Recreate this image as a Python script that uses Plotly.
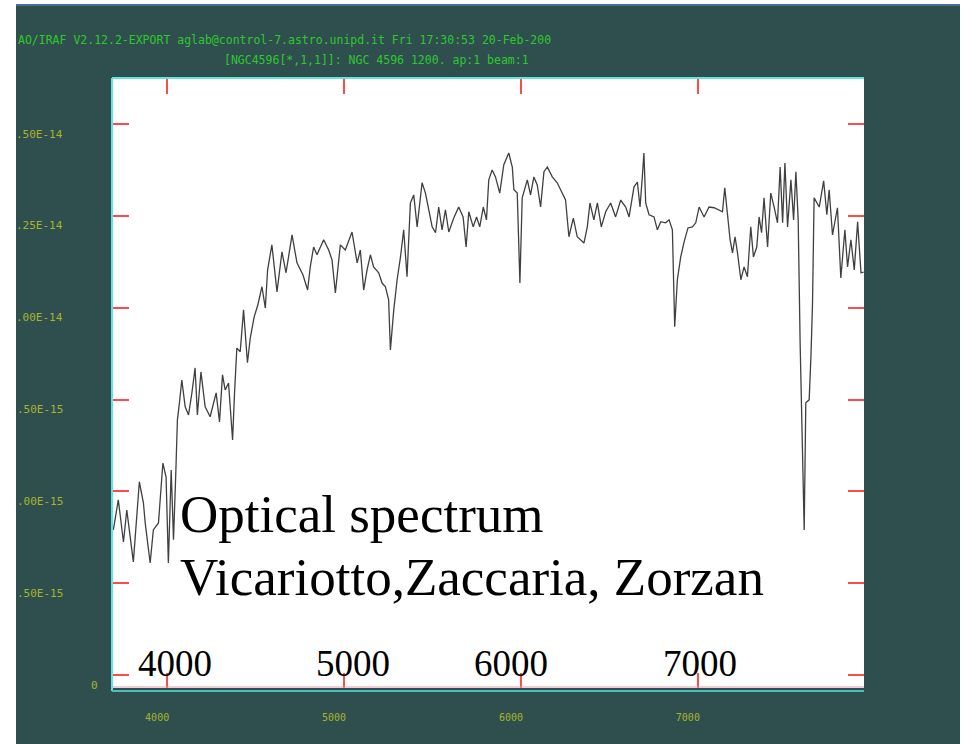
import plotly.graph_objects as go

# Wavelength (Angstrom) and flux (units of 1e-15)
wavelength = [3696, 3724, 3753, 3772, 3809, 3843, 3866, 3876, 3904, 3922, 3951, 3976, 3994, 4007,
              4023, 4036, 4049, 4058, 4070, 4083, 4102, 4121, 4140, 4158, 4171, 4191, 4215, 4243,
              4277, 4296, 4313, 4328, 4347, 4370, 4381, 4394, 4413, 4432, 4454, 4470, 4492, 4513,
              4536, 4555, 4568, 4592, 4621, 4649, 4672, 4706, 4734, 4768, 4794, 4809, 4828, 4847,
              4885, 4913, 4932, 4951, 4979, 5007, 5045, 5074, 5092, 5111, 5130, 5149, 5167, 5196,
              5215, 5234, 5252, 5262, 5281, 5300, 5319, 5337, 5356, 5375, 5394, 5413, 5441, 5460,
              5479, 5498, 5517, 5535, 5554, 5573, 5592, 5620, 5648, 5673, 5690, 5705, 5730, 5749,
              5767, 5787, 5805, 5818, 5837, 5856, 5880, 5903, 5931, 5951, 5960, 5979, 5994, 6007,
              6036, 6054, 6073, 6092, 6111, 6130, 6149, 6177, 6205, 6234, 6252, 6271, 6296, 6318,
              6356, 6375, 6390, 6412, 6432, 6454, 6479, 6507, 6535, 6564, 6592, 6611, 6639, 6658,
              6673, 6686, 6695, 6705, 6724, 6752, 6771, 6790, 6818, 6837, 6856, 6869, 6884, 6903,
              6922, 6944, 6969, 6988, 7007, 7035, 7063, 7092, 7120, 7139, 7152, 7167, 7182, 7196,
              7210, 7224, 7243, 7261, 7280, 7299, 7314, 7333, 7346, 7360, 7374, 7394, 7412, 7431,
              7450, 7465, 7479, 7492, 7507, 7526, 7541, 7554, 7567, 7578, 7592, 7601, 7610, 7629,
              7639, 7648, 7657, 7686, 7711, 7729, 7742, 7761, 7789, 7808, 7831, 7846, 7865, 7884,
              7903, 7922, 7937]
flux = [3.95, 4.77, 3.62, 4.49, 3.08, 5.26, 4.68, 4.14, 3.05, 3.95, 4.14, 5.77, 5.39, 3.05,
        5.58, 3.68, 5.50, 6.94, 7.43, 8.03, 7.30, 7.08, 7.68, 8.36, 7.08, 8.25, 7.30, 7.03,
        7.68, 6.89, 8.17, 7.76, 7.95, 6.40, 7.68, 8.90, 8.80, 9.94, 8.50, 9.18, 9.75, 10.08,
        10.57, 9.99, 11.03, 11.71, 10.43, 11.52, 10.95, 11.98, 11.22, 10.89, 10.48, 11.11, 11.65, 11.44,
        11.85, 11.57, 11.30, 10.40, 11.71, 11.57, 12.06, 11.22, 11.57, 10.48, 11.03, 11.44, 11.11, 10.95,
        10.67, 10.57, 10.21, 8.85, 9.94, 10.76, 11.38, 12.12, 10.84, 12.85, 13.07, 12.20, 13.40, 13.12,
        12.66, 12.20, 12.04, 12.74, 12.12, 12.66, 12.06, 12.44, 12.74, 12.47, 11.65, 12.61, 12.20, 12.47,
        12.20, 12.74, 12.39, 13.48, 13.75, 13.56, 13.12, 13.89, 14.21, 13.83, 13.21, 13.12, 10.67, 12.99,
        13.48, 13.07, 13.56, 13.34, 12.74, 13.70, 13.83, 13.56, 13.40, 13.12, 12.93, 11.93, 12.44, 11.93,
        11.76, 12.20, 12.85, 12.39, 12.85, 12.20, 12.61, 12.85, 12.47, 12.93, 12.74, 12.47, 13.29, 13.42,
        12.74, 13.56, 14.21, 12.85, 12.53, 12.47, 12.12, 12.34, 12.31, 12.39, 12.12, 9.48, 10.76, 11.38,
        11.79, 12.17, 12.20, 12.31, 12.74, 12.47, 12.74, 12.72, 12.66, 12.61, 13.26, 12.61, 11.85, 11.49,
        11.93, 11.49, 10.76, 11.11, 10.84, 12.20, 11.38, 11.65, 12.47, 12.04, 12.99, 11.65, 13.12, 12.74,
        12.31, 13.83, 12.31, 13.94, 12.20, 13.48, 12.39, 13.70, 12.39, 9.04, 6.40, 3.95, 7.41, 7.49,
        8.66, 10.13, 12.99, 12.74, 13.45, 12.53, 13.21, 11.98, 12.72, 10.81, 12.12, 11.11, 11.85, 11.03,
        12.34, 10.95, 10.97]

x_ticks = [4000, 5000, 6000, 7000]
x_tick_labels = ["4000", "5000", "6000", "7000"]
y_ticks = [0, 2.5, 5.0, 7.5, 10.0, 12.5, 15.0]
y_tick_labels = ["0", ".50E-15", ".00E-15", ".50E-15", ".00E-14", ".25E-14", ".50E-14"]
big_labels = ["4000", "5000", "6000", "7000"]
big_label_pos = [4045, 5053, 5941, 7011]
header1 = "AO/IRAF V2.12.2-EXPORT aglab@control-7.astro.unipd.it Fri 17:30:53 20-Feb-200"
header2 = "[NGC4596[*,1,1]]: NGC 4596 1200. ap:1 beam:1"
title_lines = ["Optical spectrum", "Vicariotto,Zaccaria, Zorzan"]

W, H = 965, 744
L, R, T, B = 113, 101, 79, 56
pw, ph = W - L - R, H - T - B

def px(xp):
    return (xp - L) / pw

def py(yp):
    return (H - B - yp) / ph

BG = "#2f4f4f"
CYAN = "#62e4e4"
RED = "#ff4a4a"
OLIVE = "#a7b42c"
GREEN = "#2ec82e"

fig = go.Figure()
fig.add_trace(go.Scatter(x=wavelength, y=flux, mode="lines",
                         line=dict(color="#404040", width=1.3), showlegend=False,
                         hoverinfo="skip"))

annotations = []
# y labels (truncated, as in the reference)
for v, t in zip(y_ticks, y_tick_labels):
    xpos = px(100) if t == "0" else px(65)
    annotations.append(dict(x=xpos, xref="paper", y=v, yref="y", text=t, showarrow=False,
                            xanchor="right", yanchor="middle", yshift=-10,
                            font=dict(family="DejaVu Sans Mono", size=11, color=OLIVE)))
# headers
annotations.append(dict(x=px(16), xref="paper", y=py(40), yref="paper", text=header1,
                        showarrow=False, xanchor="left", yanchor="middle",
                        font=dict(family="DejaVu Sans Mono", size=11.5, color=GREEN)))
annotations.append(dict(x=px(222), xref="paper", y=py(60), yref="paper", text=header2,
                        showarrow=False, xanchor="left", yanchor="middle",
                        font=dict(family="DejaVu Sans Mono", size=11.5, color=GREEN)))
# big overlay text
for line, yc in zip(title_lines, [514, 577]):
    annotations.append(dict(x=px(178), xref="paper", y=py(yc), yref="paper", text=line,
                            showarrow=False, xanchor="left", yanchor="middle",
                            font=dict(family="Liberation Serif", size=53, color="black")))
for xv, t in zip(big_label_pos, big_labels):
    annotations.append(dict(x=xv, xref="x", y=py(663), yref="paper", text=t,
                            showarrow=False, xanchor="center", yanchor="middle",
                            font=dict(family="Liberation Serif", size=37, color="black")))

shapes = [
    # white strips outside the dark frame
    dict(type="rect", xref="paper", yref="paper", x0=px(0), x1=px(16), y0=py(H), y1=py(0),
         fillcolor="white", line=dict(width=0), layer="above"),
    dict(type="rect", xref="paper", yref="paper", x0=px(960), x1=px(W), y0=py(H), y1=py(0),
         fillcolor="white", line=dict(width=0), layer="above"),
    dict(type="rect", xref="paper", yref="paper", x0=px(0), x1=px(W), y0=py(4), y1=py(0),
         fillcolor="white", line=dict(width=0), layer="above"),
    dict(type="rect", xref="paper", yref="paper", x0=px(16), x1=px(960), y0=py(6), y1=py(4),
         fillcolor="#4a6e9c", line=dict(width=0), layer="above"),
    # cyan frame lines
    dict(type="line", xref="paper", yref="paper", x0=px(112), x1=px(112), y0=py(691), y1=py(78),
         line=dict(color=CYAN, width=2), layer="above"),
    dict(type="line", xref="paper", yref="paper", x0=px(112), x1=px(864), y0=py(78), y1=py(78),
         line=dict(color=CYAN, width=2), layer="above"),
    dict(type="line", xref="paper", yref="paper", x0=px(112), x1=px(864), y0=py(691), y1=py(691),
         line=dict(color="#4fbcbc", width=2), layer="above"),
    dict(type="line", xref="paper", yref="paper", x0=px(113), x1=px(864), y0=py(687), y1=py(687),
         line=dict(color="#e89a9a", width=1), layer="above"),
]

fig.update_layout(
    width=W, height=H,
    margin=dict(l=L, r=R, t=T, b=B, pad=0),
    paper_bgcolor=BG, plot_bgcolor="white",
    annotations=annotations, shapes=shapes,
    showlegend=False,
    xaxis=dict(range=[3694, 7939], tickvals=x_ticks, ticktext=x_tick_labels,
               ticks="inside", ticklen=15, tickwidth=2, tickcolor=RED,
               showline=True, linecolor="rgba(0,0,0,0)", mirror="ticks",
               showgrid=False, zeroline=False,
               tickfont=dict(family="DejaVu Sans Mono", size=10, color=OLIVE),
               ticklabelstandoff=20, ticklabelshift=-10),
    yaxis=dict(range=[-0.354, 16.225], tickvals=y_ticks, showticklabels=False,
               ticks="inside", ticklen=16, tickwidth=2, tickcolor=RED,
               showline=True, linecolor="rgba(0,0,0,0)", mirror="ticks",
               showgrid=False, zeroline=False),
)

fig.write_html("out.html")
